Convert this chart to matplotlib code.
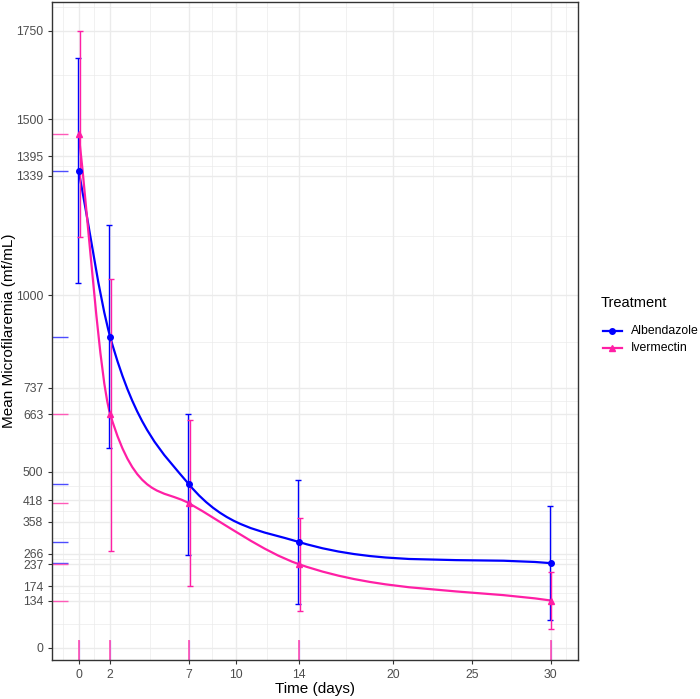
import matplotlib
matplotlib.use('Agg')
import matplotlib.pyplot as plt
from matplotlib.path import Path
from matplotlib.patches import PathPatch
from matplotlib.lines import Line2D
import numpy as np

plt.rcParams['font.family'] = ['Liberation Sans', 'DejaVu Sans']

# data
days = [0, 2, 7, 14, 30]
alb_mean = [1353, 882, 464, 300, 240]
alb_lo = [1034, 566, 264, 124, 78]
alb_hi = [1672, 1200, 664, 476, 402]
ive_mean = [1457, 663, 410, 237, 134]
ive_lo = [1165, 274, 175, 105, 52]
ive_hi = [1750, 1047, 645, 369, 216]

x_breaks = [0, 2, 7, 10, 14, 20, 25, 30]
y_breaks = [0, 134, 174, 237, 266, 358, 418, 500, 663, 737, 1000, 1339, 1395, 1500, 1750]

BLUE = '#0000FF'
PINK = '#FF1FA5'
BLUE_RUG = '#4D4DFF'
PINK_RUG = '#FF5AB8'


def minor_breaks(b):
    # ggplot style: midpoints, with one extra step on each side
    b = list(b)
    bd = b[1] - b[0]
    b = [b[0] - bd] + b + [b[-1] + bd]
    return [(b[i] + b[i + 1]) / 2 for i in range(len(b) - 1)]


def fc_slopes(x, y):
    # Fritsch-Carlson monotone slopes (R splinefun "monoH.FC")
    x = np.asarray(x, float)
    y = np.asarray(y, float)
    S = np.diff(y) / np.diff(x)
    m = np.r_[S[0], (S[1:] + S[:-1]) / 2, S[-1]]
    for k in range(len(S)):
        if S[k] == 0:
            m[k] = m[k + 1] = 0
            continue
        a, b = m[k] / S[k], m[k + 1] / S[k]
        p, q = 2 * a + b - 3, a + 2 * b - 3
        if p > 0 and q > 0 and a * (p + q) < p * p:
            tau = 3 * S[k] / np.hypot(a, b)
            m[k], m[k + 1] = tau * a, tau * b
    return m


def curve_path(xs, ys):
    b = fc_slopes(xs, ys)
    verts = [(xs[0], ys[0])]
    codes = [Path.MOVETO]
    for i in range(len(xs) - 1):
        h = xs[i + 1] - xs[i]
        verts += [(xs[i] + h / 3, ys[i] + h * b[i] / 3),
                  (xs[i + 1] - h / 3, ys[i + 1] - h * b[i + 1] / 3),
                  (xs[i + 1], ys[i + 1])]
        codes += [Path.CURVE4] * 3
    return Path(verts, codes)


fig = plt.figure(figsize=(7, 6.99), dpi=100)
ax = fig.add_axes([0.0747, 0.0562, 0.7506, 0.9414])

ax.set_xlim(-1.68, 31.72)
ax.set_ylim(-34, 1833)

for v in minor_breaks(x_breaks):
    ax.axvline(v, color='#EBEBEB', lw=0.5, zorder=0)
for v in x_breaks:
    ax.axvline(v, color='#EBEBEB', lw=1.0, zorder=0)
for v in minor_breaks(y_breaks):
    ax.axhline(v, color='#EBEBEB', lw=0.5, zorder=0)
for v in y_breaks:
    ax.axhline(v, color='#EBEBEB', lw=1.0, zorder=0)

# smooth monotone lines through the means
ax.add_patch(PathPatch(curve_path(days, alb_mean), fill=False, edgecolor=BLUE, lw=1.6, zorder=3))
ax.add_patch(PathPatch(curve_path(days, ive_mean), fill=False, edgecolor=PINK, lw=1.6, zorder=3))

# error bars (slightly dodged)
ax.errorbar(np.array(days) - 0.05, alb_mean,
            yerr=[np.array(alb_mean) - alb_lo, np.array(alb_hi) - alb_mean],
            fmt='none', ecolor=BLUE, elinewidth=1, capsize=2, capthick=1, zorder=4)
ax.errorbar(np.array(days) + 0.05, ive_mean,
            yerr=[np.array(ive_mean) - ive_lo, np.array(ive_hi) - ive_mean],
            fmt='none', ecolor=PINK, elinewidth=1, capsize=2, capthick=1, zorder=4)

ax.plot(days, alb_mean, 'o', color=BLUE, ms=4, zorder=5)
ax.plot(days, ive_mean, '^', color=PINK, ms=4.5, zorder=5)

# rugs
ax.hlines(alb_mean, 0, 0.03, color=BLUE_RUG, lw=1, transform=ax.get_yaxis_transform())
ax.hlines(ive_mean, 0, 0.03, color=PINK_RUG, lw=1, transform=ax.get_yaxis_transform())
ax.vlines(days, 0, 0.03, color=BLUE_RUG, lw=0.8, transform=ax.get_xaxis_transform())
ax.vlines(days, 0, 0.03, color=PINK_RUG, lw=1.3, transform=ax.get_xaxis_transform())

ax.set_xticks(x_breaks)
ax.set_yticks(y_breaks)
ax.tick_params(axis='both', length=3, width=0.8, color='#333333', labelcolor='#4D4D4D', labelsize=8.8)
for s in ax.spines.values():
    s.set_color('#333333')
    s.set_linewidth(1)

fig.text(13.5 / 700, 1 - 330.7 / 699, 'Mean Microfilaremia (mf/mL)', rotation=90,
         rotation_mode='anchor', ha='center', va='baseline', fontsize=11)
fig.text(0.45, 1 - 689 / 699, 'Time (days)', ha='center', va='center', fontsize=11)

# legend, placed by hand
fig.text(601 / 700, 1 - 303 / 699, 'Treatment', ha='left', va='center', fontsize=10.5)
for k, (lab, col, mk, ms) in enumerate([('Albendazole', BLUE, 'o', 4), ('Ivermectin', PINK, '^', 4.5)]):
    yk = 1 - (330.7 + 17.3 * k) / 699
    fig.add_artist(Line2D([602.7 / 700, 621.7 / 700], [yk, yk], color=col, lw=1.6))
    fig.add_artist(Line2D([612.2 / 700], [yk], color=col, marker=mk, ms=ms, lw=0))
    fig.text(631 / 700, yk, lab, ha='left', va='center', fontsize=8.8)

fig.savefig('out.png', dpi=100)
